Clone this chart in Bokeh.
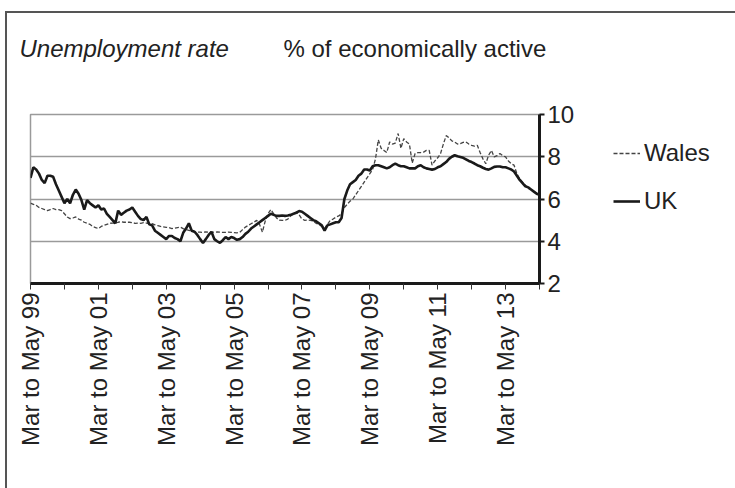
import math
from bokeh.plotting import figure
from bokeh.layouts import row
from bokeh.models import FixedTicker, Range1d, Legend, LegendItem, Title, ColumnDataSource
from bokeh.embed import file_html
from bokeh.resources import INLINE

# ---- data (monthly rolling quarters, Mar-May 1999 = 0) ----
month_index = list(range(181))

uk = [7.0, 7.5, 7.4, 7.2, 6.9, 6.75, 7.1, 7.1, 7.05, 6.7,
      6.4, 6.1, 5.8, 6.0, 5.8, 6.2, 6.45, 6.25, 5.95, 5.5,
      5.95, 5.8, 5.7, 5.6, 5.7, 5.5, 5.55, 5.3, 5.15, 5.0,
      4.85, 5.45, 5.25, 5.35, 5.45, 5.5, 5.6, 5.4, 5.2, 5.05,
      5.0, 5.15, 4.8, 4.75, 4.5, 4.4, 4.3, 4.2, 4.1, 4.25,
      4.25, 4.15, 4.1, 4.0, 4.4, 4.6, 4.85, 4.5, 4.45, 4.3,
      4.1, 3.92, 4.1, 4.3, 4.45, 4.1, 4.0, 3.92, 4.05, 4.2,
      4.1, 4.2, 4.15, 4.07, 4.1, 4.2, 4.35, 4.45, 4.6, 4.7,
      4.8, 4.9, 5.0, 5.1, 5.2, 5.3, 5.25, 5.2, 5.2, 5.22,
      5.2, 5.22, 5.25, 5.3, 5.35, 5.43, 5.4, 5.3, 5.2, 5.1,
      5.0, 4.95, 4.85, 4.75, 4.5, 4.75, 4.8, 4.85, 4.9, 4.9,
      5.1, 6.0, 6.4, 6.7, 6.8, 6.9, 7.1, 7.2, 7.4, 7.4,
      7.35, 7.55, 7.6, 7.6, 7.55, 7.5, 7.45, 7.5, 7.6, 7.67,
      7.6, 7.55, 7.55, 7.5, 7.45, 7.45, 7.45, 7.55, 7.6, 7.5,
      7.45, 7.42, 7.39, 7.42, 7.5, 7.55, 7.65, 7.75, 7.9, 8.0,
      8.07, 8.02, 7.99, 7.95, 7.88, 7.8, 7.75, 7.68, 7.6, 7.55,
      7.48, 7.42, 7.39, 7.45, 7.52, 7.54, 7.54, 7.5, 7.5, 7.45,
      7.4, 7.3, 7.1, 6.9, 6.75, 6.6, 6.55, 6.45, 6.35, 6.25,
      6.2]

wales = [5.8, 5.75, 5.7, 5.6, 5.55, 5.5, 5.45, 5.5, 5.55, 5.5,
         5.5, 5.45, 5.3, 5.15, 5.07, 5.1, 5.15, 5.05, 5.0, 4.9,
         4.85, 4.8, 4.7, 4.65, 4.6, 4.7, 4.75, 4.8, 4.85, 4.86,
         4.85, 4.9, 4.92, 4.9, 4.9, 4.9, 4.88, 4.85, 4.86, 4.85,
         4.88, 4.86, 4.84, 4.83, 4.78, 4.74, 4.7, 4.68, 4.66, 4.64,
         4.6, 4.62, 4.65, 4.67, 4.6, 4.55, 4.52, 4.48, 4.45, 4.43,
         4.43, 4.42, 4.44, 4.43, 4.42, 4.43, 4.44, 4.43, 4.42, 4.42,
         4.43, 4.42, 4.41, 4.4, 4.42, 4.55, 4.67, 4.75, 4.83, 4.9,
         4.99, 4.8, 4.43, 4.95, 5.3, 5.5, 5.3, 5.1, 5.0, 4.99,
         4.99, 5.05, 5.2, 5.3, 5.38, 5.25, 5.05, 4.99, 5.0, 4.99,
         4.95, 4.85, 4.8, 4.7, 4.6, 4.8, 4.99, 5.05, 5.14, 5.2,
         5.3, 5.6, 5.75, 5.9, 6.0, 6.2, 6.4, 6.6, 6.8, 7.0,
         7.2, 7.4, 7.9, 8.8, 8.4, 8.3, 8.2, 8.7, 8.6, 8.65,
         9.1, 8.4, 8.86, 8.7, 8.6, 7.7, 8.15, 8.2, 8.2, 8.22,
         8.3, 8.3, 7.6, 7.8, 7.95, 8.15, 8.6, 9.0, 8.9, 8.75,
         8.7, 8.6, 8.62, 8.68, 8.7, 8.6, 8.54, 8.5, 8.54, 8.2,
         7.9, 7.67, 8.07, 8.3, 7.99, 8.05, 8.15, 8.05, 7.99, 7.8,
         7.67, 7.6, 7.2, 6.95, 6.8, 6.65, 6.5, 6.45, 6.35, 6.28,
         6.2]

x_tick_positions = [0, 12, 24, 36, 48, 60, 72, 84, 96, 108, 120, 132, 144, 156, 168, 180]
x_tick_labels = ["Mar to May 99", "", "Mar to May 01", "", "Mar to May 03", "",
                 "Mar to May 05", "", "Mar to May 07", "", "Mar to May 09", "",
                 "Mar to May 11", "", "Mar to May 13", ""]
y_ticks = [2, 4, 6, 8, 10]
series_names = ["Wales", "UK"]
title_main = "Unemployment rate"
title_unit = "% of economically active"

FONT = "Liberation Sans"
TXT = "#222222"
WALES_STYLE = dict(line_color="#444444", line_width=1.3, line_dash="4 2")
UK_STYLE = dict(line_color="#1a1a1a", line_width=2.6)

H = 475
TOP, BOTTOM = 101, 205

# ---- main chart ----
p = figure(width=572, height=H,
           x_range=Range1d(0, 180), y_range=Range1d(2, 10),
           output_backend="svg", toolbar_location=None,
           y_axis_location="right",
           min_border_left=23, min_border_right=40,
           min_border_top=TOP, min_border_bottom=BOTTOM)

p.background_fill_color = "white"
p.border_fill_color = "white"
p.outline_line_color = "#9a9a9a"
p.outline_line_width = 1.5

p.xgrid.visible = False
p.ygrid.ticker = FixedTicker(ticks=y_ticks)
p.ygrid.grid_line_color = "#9a9a9a"
p.ygrid.grid_line_width = 1.5

xa = p.xaxis[0]
xa.ticker = FixedTicker(ticks=x_tick_positions)
xa.major_label_overrides = {t: l for t, l in zip(x_tick_positions, x_tick_labels)}
xa.major_label_orientation = math.pi / 2
xa.axis_line_width = 3
xa.axis_line_color = "#1a1a1a"
xa.major_tick_line_color = "#333333"
xa.major_tick_line_width = 1
xa.major_tick_in = 0
xa.major_tick_out = 6
xa.minor_tick_line_color = None
xa.major_label_text_font = FONT
xa.major_label_text_font_size = "24px"
xa.major_label_text_color = TXT
xa.major_label_standoff = 3

ya = p.yaxis[0]
ya.ticker = FixedTicker(ticks=y_ticks)
ya.axis_line_width = 3
ya.axis_line_color = "#1a1a1a"
ya.major_tick_line_color = "#1a1a1a"
ya.major_tick_line_width = 2
ya.major_tick_in = 0
ya.major_tick_out = 5
ya.minor_tick_line_color = None
ya.major_label_text_font = FONT
ya.major_label_text_font_size = "24px"
ya.major_label_text_color = TXT
ya.major_label_standoff = 3

src = ColumnDataSource(dict(m=month_index, uk=uk, wales=wales))
p.line("m", "wales", source=src, **WALES_STYLE)
p.line("m", "uk", source=src, **UK_STYLE)

# titles: an invisible spacer, then two zero-height titles on one line
p.add_layout(Title(text=".", text_color="white", text_font_size="10px", standoff=56), "above")
p.add_layout(Title(text=title_main, text_font=FONT, text_font_style="italic",
                   text_font_size="24px", text_color=TXT, align="left", offset=-11,
                   vertical_align="middle", standoff=-29), "above")
p.add_layout(Title(text=title_unit, text_font=FONT, text_font_style="normal",
                   text_font_size="24px", text_color=TXT, align="left", offset=253,
                   vertical_align="middle", standoff=-29), "above")

# ---- legend panel (its own plot so the key is not clipped) ----
# its ranges lie left of the data, so the key renderers draw nothing in it
lg = figure(width=735 - 7 - 572, height=H,
            x_range=Range1d(-20, -10), y_range=Range1d(2, 10),
            output_backend="svg", toolbar_location=None,
            x_axis_type=None, y_axis_type=None,
            min_border_left=0, min_border_right=0,
            min_border_top=TOP, min_border_bottom=BOTTOM)
lg.outline_line_color = None
lg.grid.visible = False
lg.background_fill_color = "white"
lg.border_fill_color = "white"
k_w = lg.line("m", "wales", source=src, **WALES_STYLE)
k_uk = lg.line("m", "uk", source=src, **UK_STYLE)

legend = Legend(items=[LegendItem(label=series_names[0], renderers=[k_w]),
                       LegendItem(label=series_names[1], renderers=[k_uk])],
                location=(34, 68), orientation="vertical",
                border_line_color=None, background_fill_alpha=0,
                padding=0, margin=0, spacing=20,
                glyph_width=27, glyph_height=24, label_height=24,
                label_standoff=4,
                label_text_font=FONT, label_text_font_size="24px",
                label_text_color=TXT)
lg.add_layout(legend, "center")

layout = row(p, lg, spacing=0)
layout.styles = {"margin-left": "5px", "margin-top": "11px",
                 "border-left": "2px solid #555555", "border-top": "2px solid #555555"}

open("out.html", "w").write(file_html(layout, INLINE))
